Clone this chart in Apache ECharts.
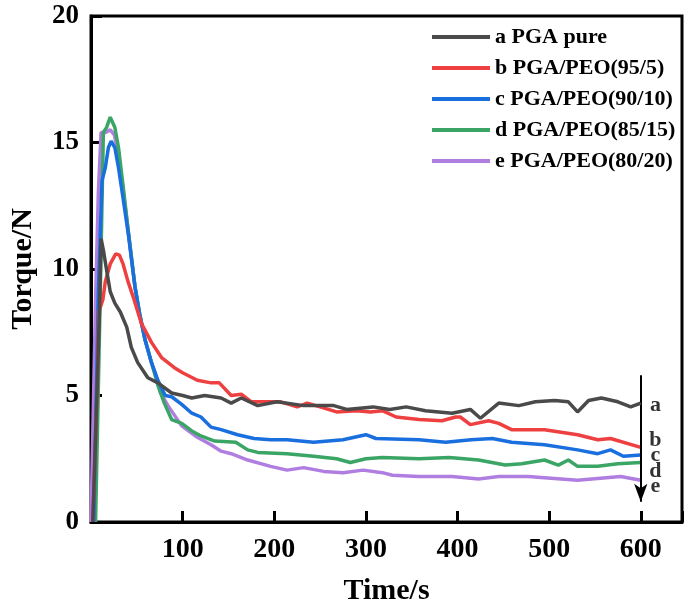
<html>
  <head>
    <meta charset="utf-8">
    <style>
      body { margin: 0; background: #fff; }
      #main { width: 685px; height: 613px; }
    </style>
  </head>
  <body>
    <div id="main"></div>
  </body>
  <script src="https://cdn.jsdelivr.net/npm/echarts@6/dist/echarts.min.js"></script>
  <script>

// names of the five blends
var names = ['a PGA pure', 'b PGA/PEO(95/5)', 'c PGA/PEO(90/10)', 'd PGA/PEO(85/15)', 'e PGA/PEO(80/20)'];
var colors = ['#4a4a4a', '#ee4040', '#1a6fdf', '#3aa565', '#b07ee0'];

// [time s, torque N]
var pgaPure = [[2,0],[9,8],[11,11.2],[13.5,10.75],[17.5,9.85],[21,9.1],[26,8.65],[32,8.3],[39,7.7],[44,6.9],[51,6.3],[62,5.7],[73,5.5],[88,5.1],[100,5.0],[110,4.9],[124,5.0],[142,4.9],[153,4.7],[164,4.9],[182,4.6],[203,4.75],[232,4.6],[265,4.6],[279,4.45],[308,4.55],[326,4.45],[344,4.55],[365,4.4],[394,4.3],[414,4.45],[425,4.1],[445,4.7],[467,4.6],[485,4.75],[506,4.8],[521,4.75],[531,4.35],[543,4.8],[557,4.9],[575,4.75],[589,4.55],[600,4.7]];
var peo95 = [[2,0],[7,5.5],[8.5,8.3],[13,8.8],[15.6,9.5],[21,10.2],[27,10.6],[31,10.55],[35,10.2],[40,9.55],[46,8.9],[55,7.85],[66,7.1],[77,6.5],[91,6.1],[100,5.9],[116,5.6],[131,5.5],[140,5.5],[153,5.0],[164,5.05],[175,4.75],[207,4.75],[225,4.55],[236,4.7],[250,4.55],[268,4.35],[290,4.4],[305,4.35],[318,4.4],[333,4.15],[358,4.05],[383,4.0],[398,4.15],[403,4.15],[414,3.85],[434,4.0],[445,3.9],[459,3.65],[495,3.65],[531,3.45],[553,3.25],[567,3.3],[600,2.95]];
var peo90 = [[3,0],[8,9],[12,13.5],[15.6,14.0],[19,14.8],[22,15.05],[26,14.8],[30,14.0],[35,12.8],[41,11.3],[48,9.3],[53,8.25],[59,7.2],[66,6.3],[73,5.6],[81,5.0],[88,4.95],[99,4.65],[110,4.3],[120,4.15],[131,3.75],[142,3.65],[160,3.45],[178,3.3],[196,3.25],[214,3.25],[243,3.15],[275,3.25],[300,3.45],[311,3.3],[358,3.25],[387,3.15],[415,3.25],[438,3.3],[459,3.15],[495,3.05],[531,2.85],[553,2.7],[567,2.85],[581,2.6],[600,2.65]];
var peo85 = [[5,0],[10,8.8],[13.5,15.4],[17,15.6],[21,16.0],[26,15.6],[30,14.8],[35,13.3],[41,11.4],[48,9.3],[53,8.25],[59,7.2],[66,6.3],[73,5.4],[80,4.7],[88,4.05],[99,3.9],[110,3.6],[120,3.4],[135,3.2],[158,3.15],[171,2.85],[182,2.75],[214,2.7],[243,2.6],[268,2.5],[283,2.35],[300,2.5],[318,2.55],[358,2.5],[391,2.55],[423,2.45],[452,2.25],[470,2.3],[495,2.45],[510,2.25],[521,2.45],[531,2.2],[553,2.2],[575,2.3],[600,2.35]];
var peo80 = [[0,0],[5,8.8],[8,13],[11,15.4],[16,15.4],[21,15.5],[25.5,15.3],[30,14.5],[34,13.4],[41,11.4],[48,9.3],[53,8.2],[59,7.2],[66,6.3],[70,5.9],[76,5.1],[84,4.6],[99,3.8],[116,3.35],[131,3.05],[142,2.8],[153,2.7],[171,2.45],[196,2.2],[214,2.05],[232,2.15],[254,2.0],[275,1.95],[297,2.05],[318,1.95],[329,1.85],[358,1.8],[394,1.8],[423,1.7],[445,1.8],[477,1.8],[531,1.65],[578,1.8],[600,1.65]];

// arrow and curve letters at the right end
var arrowPts = [[600, 5.8], [600, 0.8]];
var letterPts = [[616, 4.62, 'a'], [616, 3.24, 'b'], [616, 2.65, 'c'], [616, 2.0, 'd'], [616, 1.42, 'e']];

var xTicks = [100, 200, 300, 400, 500, 600];
var yTicks = [0, 5, 10, 15, 20];

var font = 'Liberation Serif';
var allData = [pgaPure, peo95, peo90, peo85, peo80];

var series = [];
for (var i = 0; i < 5; i++) {
  series.push({
    name: names[i],
    type: 'line',
    data: allData[i],
    symbol: 'none',
    showSymbol: false,
    color: colors[i],
    lineStyle: {width: 3.5, color: colors[i]},
    z: 5 - i
  });
}
series[0].markLine = {
  silent: true,
  symbol: ['none', 'arrow'],
  symbolSize: [10, 18],
  label: {show: false},
  lineStyle: {color: '#000', width: 2, type: 'solid'},
  data: [[{coord: arrowPts[0]}, {coord: arrowPts[1]}]]
};
series.push({
  name: 'letters',
  type: 'scatter',
  data: letterPts,
  symbolSize: 0,
  silent: true,
  label: {
    show: true,
    position: 'inside',
    formatter: function (p) { return p.data[2]; },
    fontFamily: font,
    fontWeight: 'bold',
    fontSize: 22,
    color: '#000'
  }
});

var option = {
  animation: false,
  backgroundColor: '#fff',
  grid: {
    left: 85, right: 3, top: 16, bottom: 91,
    show: true, borderColor: '#000', borderWidth: 3
  },
  legend: {
    data: names,
    orient: 'vertical',
    left: 427,
    top: 21,
    icon: 'rect',
    itemWidth: 58,
    itemHeight: 4,
    itemGap: 9,
    textStyle: {fontFamily: font, fontWeight: 'bold', fontSize: 22, color: '#000', lineHeight: 22}
  },
  xAxis: {
    type: 'value',
    min: 0,
    max: 645,
    interval: 100,
    name: 'Time/s',
    nameLocation: 'middle',
    nameGap: 54,
    nameTextStyle: {fontFamily: font, fontWeight: 'bold', fontSize: 30, color: '#000'},
    axisLine: {lineStyle: {color: '#000', width: 3}},
    axisTick: {inside: true, length: 11, lineStyle: {width: 3, color: '#000'}},
    axisLabel: {
      margin: 14,
      fontFamily: font, fontWeight: 'bold', fontSize: 28, color: '#000',
      formatter: function (v) { return xTicks.indexOf(v) >= 0 ? String(v) : ''; }
    },
    splitLine: {show: false}
  },
  yAxis: {
    type: 'value',
    min: 0,
    max: 20,
    interval: 5,
    name: 'Torque/N',
    nameLocation: 'middle',
    nameGap: 53,
    nameTextStyle: {fontFamily: font, fontWeight: 'bold', fontSize: 30, color: '#000'},
    axisLine: {lineStyle: {color: '#000', width: 3}},
    axisTick: {inside: true, length: 11, lineStyle: {width: 3, color: '#000'}},
    axisLabel: {
      margin: 12,
      fontFamily: font, fontWeight: 'bold', fontSize: 27, color: '#000',
      formatter: function (v) { return yTicks.indexOf(v) >= 0 ? String(v) : ''; }
    },
    splitLine: {show: false}
  },
  series: series
};

var chart = echarts.init(document.getElementById('main'));
chart.setOption(option);
  </script>
</html>
